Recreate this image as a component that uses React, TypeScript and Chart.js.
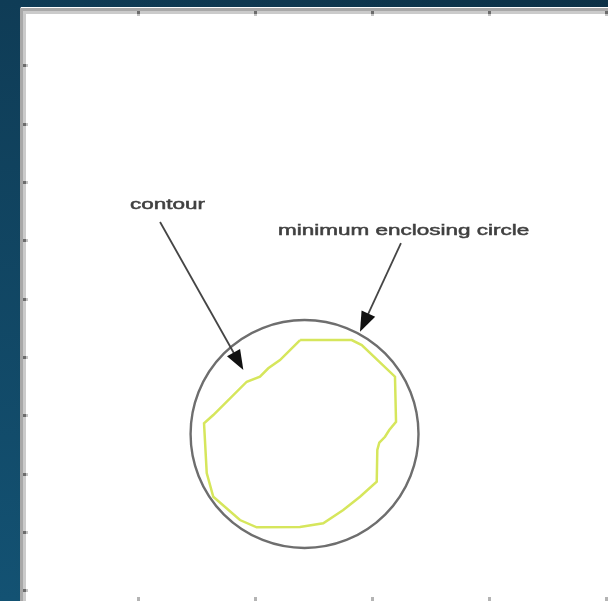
import React, { useEffect, useRef } from "react";
import { Chart, registerables } from "chart.js";

Chart.register(...registerables);

// Axis ticks (axis units)
const X_TICKS = [1, 2, 3, 4, 5];
const Y_TICKS = [1, 2, 3, 4, 5, 6, 7, 8, 9, 10];
const X_MIN = 0;
const X_MAX = 5.1;
const Y_MIN = 0;
const Y_MAX = 10.2;

// Contour polygon (closed)
const CONTOUR_X = [2.388, 2.829, 2.915, 3.199, 3.208, 3.15, 3.114, 3.065, 3.048, 3.043, 2.9, 2.757, 2.586, 2.387, 2.017, 1.874, 1.646, 1.59, 1.567, 1.646, 1.932, 2.045, 2.116, 2.216, 2.388];
const CONTOUR_Y = [5.709, 5.709, 5.795, 6.338, 7.11, 7.252, 7.367, 7.47, 7.595, 8.138, 8.395, 8.623, 8.851, 8.915, 8.92, 8.795, 8.395, 7.989, 7.137, 6.995, 6.424, 6.338, 6.194, 6.052, 5.709];

// Minimum enclosing circle
const CIRCLE_X = [2.426];
const CIRCLE_Y = [7.32];
const CIRCLE_R = [0.974]; // in x-axis units

// Annotations
const LABEL_TEXT = ["contour", "minimum enclosing circle"];
const LABEL_X = [0.934, 2.199];
const LABEL_Y = [3.455, 3.909];
const ARROW_FROM_X = [1.191, 3.25];
const ARROW_FROM_Y = [3.686, 4.046];
const ARROW_TO_X = [1.903, 2.9];
const ARROW_TO_Y = [6.223, 5.567];

const framePlugin = {
  id: "frame",
  beforeDatasetsDraw(chart: any) {
    const { ctx, chartArea } = chart;
    ctx.save();
    ctx.fillStyle = "#ffffff";
    ctx.fillRect(chartArea.left, chartArea.top, chartArea.right - chartArea.left, chartArea.bottom - chartArea.top);
    ctx.restore();
  },
  afterDraw(chart: any) {
    const { ctx, chartArea, scales } = chart;
    const L = chartArea.left - 0.7;
    const T = chartArea.top + 1;
    const W = chartArea.right - chartArea.left;
    const H = chartArea.bottom - chartArea.top;
    ctx.save();
    // frame bands
    ctx.fillStyle = "#a8a8a8";
    ctx.fillRect(L, T, 3, H);
    ctx.fillRect(L, T, W, 3);
    ctx.fillStyle = "#cbcbcb";
    ctx.fillRect(L + 3, T + 3, 3, H);
    ctx.fillRect(L + 3, T + 3, W, 3);
    // ticks
    for (const v of X_TICKS) {
      const px = Math.round(scales.x.getPixelForValue(v));
      ctx.fillStyle = "#6c6c6c";
      ctx.fillRect(px - 1, T + 3, 3, 3);
      ctx.fillStyle = "#c4c4c4";
      ctx.fillRect(px - 1, T + 6, 3, 2);
      ctx.fillStyle = "#b4b4b4";
      ctx.fillRect(px - 1, chartArea.bottom - 5, 3, 5);
    }
    for (const v of Y_TICKS) {
      const py = Math.round(scales.y.getPixelForValue(v));
      ctx.fillStyle = "#6c6c6c";
      ctx.fillRect(L + 3, py - 1, 3, 3);
      ctx.fillStyle = "#c4c4c4";
      ctx.fillRect(L + 6, py - 1, 2, 3);
    }
    // annotations: arrows
    for (let i = 0; i < ARROW_FROM_X.length; i++) {
      const x0 = scales.x.getPixelForValue(ARROW_FROM_X[i]);
      const y0 = scales.y.getPixelForValue(ARROW_FROM_Y[i]);
      const x1 = scales.x.getPixelForValue(ARROW_TO_X[i]);
      const y1 = scales.y.getPixelForValue(ARROW_TO_Y[i]);
      const ang = Math.atan2(y1 - y0, x1 - x0);
      const headLen = 20;
      const headHalf = 7.5;
      const bx = x1 - headLen * Math.cos(ang);
      const by = y1 - headLen * Math.sin(ang);
      ctx.strokeStyle = "#454545";
      ctx.lineWidth = 1.8;
      ctx.beginPath();
      ctx.moveTo(x0, y0);
      ctx.lineTo(bx + 4 * Math.cos(ang), by + 4 * Math.sin(ang));
      ctx.stroke();
      ctx.fillStyle = "#111111";
      ctx.beginPath();
      ctx.moveTo(x1, y1);
      ctx.lineTo(bx + headHalf * Math.sin(ang), by - headHalf * Math.cos(ang));
      ctx.lineTo(bx - headHalf * Math.sin(ang), by + headHalf * Math.cos(ang));
      ctx.closePath();
      ctx.fill();
    }
    // annotations: labels
    ctx.font = "15px 'Liberation Sans', Arial, sans-serif";
    ctx.fillStyle = "#404040";
    ctx.strokeStyle = "#404040";
    ctx.lineWidth = 0.5;
    ctx.textAlign = "left";
    ctx.textBaseline = "alphabetic";
    const stretch = 1.5;
    for (let i = 0; i < LABEL_TEXT.length; i++) {
      const px = scales.x.getPixelForValue(LABEL_X[i]);
      const py = scales.y.getPixelForValue(LABEL_Y[i]);
      ctx.save();
      ctx.translate(px, py);
      ctx.scale(stretch, 1);
      ctx.fillText(LABEL_TEXT[i], 0, 0);
      ctx.strokeText(LABEL_TEXT[i], 0, 0);
      ctx.restore();
    }
    ctx.restore();
  },
};

export default function App() {
  const ref = useRef<HTMLCanvasElement | null>(null);

  useEffect(() => {
    if (!ref.current) return;
    const contour = CONTOUR_X.map((x, i) => ({ x, y: CONTOUR_Y[i] }));
    const circle = CIRCLE_X.map((x, i) => ({ x, y: CIRCLE_Y[i] }));
    const chart = new Chart(ref.current, {
      type: "scatter",
      data: {
        datasets: [
          {
            label: "minimum enclosing circle",
            data: circle,
            pointStyle: "circle",
            pointRadius: (c: any) => {
              const s = c.chart.scales.x;
              const i = c.dataIndex ?? 0;
              return s.getPixelForValue(CIRCLE_X[i] + CIRCLE_R[i]) - s.getPixelForValue(CIRCLE_X[i]);
            },
            pointBorderWidth: 2.4,
            pointBorderColor: "#6e6e6e",
            pointBackgroundColor: "rgba(0,0,0,0)",
            showLine: false,
          } as any,
          {
            label: "contour",
            data: contour,
            showLine: true,
            borderColor: "#d6e65c",
            borderWidth: 2.5,
            pointRadius: 0,
            tension: 0,
            fill: false,
          } as any,
        ],
      },
      options: {
        animation: false,
        responsive: false,
        devicePixelRatio: 1,
        events: [],
        layout: { padding: { left: 20.7, top: 7, right: 22.6, bottom: 18 } },
        plugins: { legend: { display: false }, tooltip: { enabled: false } },
        scales: {
          x: { type: "linear", min: X_MIN, max: X_MAX, display: false },
          y: { type: "linear", min: Y_MIN, max: Y_MAX, reverse: true, display: false },
        },
      } as any,
      plugins: [framePlugin],
    });
    return () => chart.destroy();
  }, []);

  return (
    <div
      style={{
        position: "fixed",
        left: 0,
        top: 0,
        width: 608,
        height: 601,
        overflow: "hidden",
        background:
          "linear-gradient(to right, rgba(0,0,0,0) 0%, rgba(0,0,0,0.18) 100%), linear-gradient(to bottom, #0f3c56 0%, #135273 100%)",
      }}
    >
      <canvas
        ref={ref}
        width={640}
        height={620}
        style={{ position: "absolute", left: 0, top: 0, width: 640, height: 620, filter: "blur(0.5px)" }}
      />
    </div>
  );
}
